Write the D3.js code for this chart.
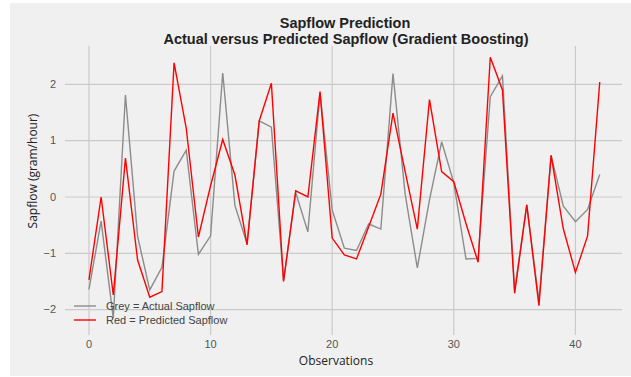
<!DOCTYPE html>
<html>
<head>
<meta charset="utf-8">
<script src="https://cdn.jsdelivr.net/npm/d3@7"></script>
<style>
  body { margin: 0; background: #fff; }
  svg text { font-family: "Liberation Sans", Arial, sans-serif; }
</style>
</head>
<body>
<div id="chart"></div>
<script>
// observations 0..42
var observations = d3.range(0, 43);

// grey = actual sapflow (gram/hour)
var actualSapflow = [-1.64, -0.43, -2.15, 1.81, -0.70, -1.65, -1.25, 0.46, 0.83, -1.02,
    -0.69, 2.20, -0.15, -0.83, 1.35, 1.24, -1.48, 0.08, -0.62, 1.85,
    -0.23, -0.91, -0.95, -0.48, -0.57, 2.19, 0.05, -1.26, -0.05, 0.98,
    0.25, -1.10, -1.09, 1.78, 2.15, -1.65, -0.14, -1.85, 0.74, -0.16,
    -0.44, -0.22, 0.40];

// red = predicted sapflow
var predictedSapflow = [-1.47, 0.00, -1.74, 0.69, -1.12, -1.78, -1.68, 2.38, 1.22, -0.71,
    0.20, 1.02, 0.39, -0.85, 1.35, 2.02, -1.50, 0.11, 0.00, 1.87,
    -0.73, -1.03, -1.10, -0.53, 0.05, 1.49, 0.45, -0.57, 1.73, 0.45,
    0.27, -0.47, -1.16, 2.48, 1.90, -1.71, -0.14, -1.93, 0.74, -0.56,
    -1.34, -0.69, 2.04];

var xTicks = [0, 10, 20, 30, 40];
var yTicks = [-2, -1, 0, 1, 2];
var legendLabels = ["Grey = Actual Sapflow", "Red = Predicted Sapflow"];

var width = 631, height = 377;
var plot = {left: 65, right: 622, top: 46, bottom: 335};

var svg = d3.select("#chart").append("svg")
    .attr("width", width)
    .attr("height", height);

// figure background
svg.append("rect")
    .attr("x", 10)
    .attr("y", 3)
    .attr("width", width - 10)
    .attr("height", height - 4)
    .attr("fill", "#f0f0f0");

var x = d3.scaleLinear()
    .domain([-1.97, 43.83])
    .range([plot.left, plot.right]);
var y = d3.scaleLinear()
    .domain([-2.45, 2.68])
    .range([plot.bottom, plot.top]);

// grid
svg.append("g")
    .selectAll("line")
    .data(yTicks)
    .enter().append("line")
    .attr("x1", plot.left)
    .attr("x2", plot.right)
    .attr("y1", d => y(d))
    .attr("y2", d => y(d))
    .attr("stroke", "#cbcbcb")
    .attr("stroke-width", 1.2);

svg.append("g")
    .selectAll("line")
    .data(xTicks)
    .enter().append("line")
    .attr("x1", d => x(d))
    .attr("x2", d => x(d))
    .attr("y1", plot.top)
    .attr("y2", plot.bottom)
    .attr("stroke", "#cbcbcb")
    .attr("stroke-width", 1.2);

// tick labels
svg.append("g")
    .selectAll("text")
    .data(xTicks)
    .enter().append("text")
    .attr("x", d => x(d))
    .attr("y", 348)
    .attr("text-anchor", "middle")
    .attr("fill", "#555")
    .style("font-size", "11px")
    .text(d => d);

svg.append("g")
    .selectAll("text")
    .data(yTicks)
    .enter().append("text")
    .attr("x", 56)
    .attr("y", d => y(d))
    .attr("dy", "0.35em")
    .attr("text-anchor", "end")
    .attr("fill", "#555")
    .style("font-size", "11px")
    .text(d => d < 0 ? "\u2212" + Math.abs(d) : d);

// lines
var lineActual = d3.line()
    .x((d, i) => x(observations[i]))
    .y(d => y(d));

svg.append("path")
    .datum(actualSapflow)
    .attr("fill", "none")
    .attr("stroke", "#8c8c8c")
    .attr("stroke-width", 1.4)
    .attr("d", lineActual);

svg.append("path")
    .datum(predictedSapflow)
    .attr("fill", "none")
    .attr("stroke", "#ff0000")
    .attr("stroke-width", 1.4)
    .attr("d", lineActual);

// titles
svg.append("text")
    .attr("x", 345)
    .attr("y", 28)
    .attr("text-anchor", "middle")
    .attr("fill", "#222")
    .style("font-size", "14.5px")
    .style("font-weight", "bold")
    .text("Sapflow Prediction");

svg.append("text")
    .attr("x", 346)
    .attr("y", 44)
    .attr("text-anchor", "middle")
    .attr("fill", "#222")
    .style("font-size", "14.5px")
    .style("font-weight", "bold")
    .text("Actual versus Predicted Sapflow (Gradient Boosting)");

// axis labels
svg.append("text")
    .attr("x", 336)
    .attr("y", 365)
    .attr("text-anchor", "middle")
    .attr("fill", "#222")
    .style("font-size", "12px")
    .style("font-family", "'Open Sans', sans-serif")
    .text("Observations");

svg.append("text")
    .attr("transform", "translate(37,171) rotate(-90)")
    .attr("text-anchor", "middle")
    .attr("fill", "#222")
    .style("font-size", "12px")
    .style("font-family", "'Open Sans', sans-serif")
    .text("Sapflow (gram/hour)");

// legend
var legendColors = ["#8c8c8c", "#ff0000"];
var legend = svg.append("g")
    .selectAll("g")
    .data(legendLabels)
    .enter().append("g")
    .attr("transform", (d, i) => "translate(74," + (306 + i * 14) + ")");

legend.append("line")
    .attr("x1", 0)
    .attr("x2", 22)
    .attr("stroke", (d, i) => legendColors[i])
    .attr("stroke-width", 1.4);

legend.append("text")
    .attr("x", 32)
    .attr("dy", "0.35em")
    .attr("fill", "#444")
    .style("font-size", "11px")
    .text(d => d);
</script>
</body>
</html>
